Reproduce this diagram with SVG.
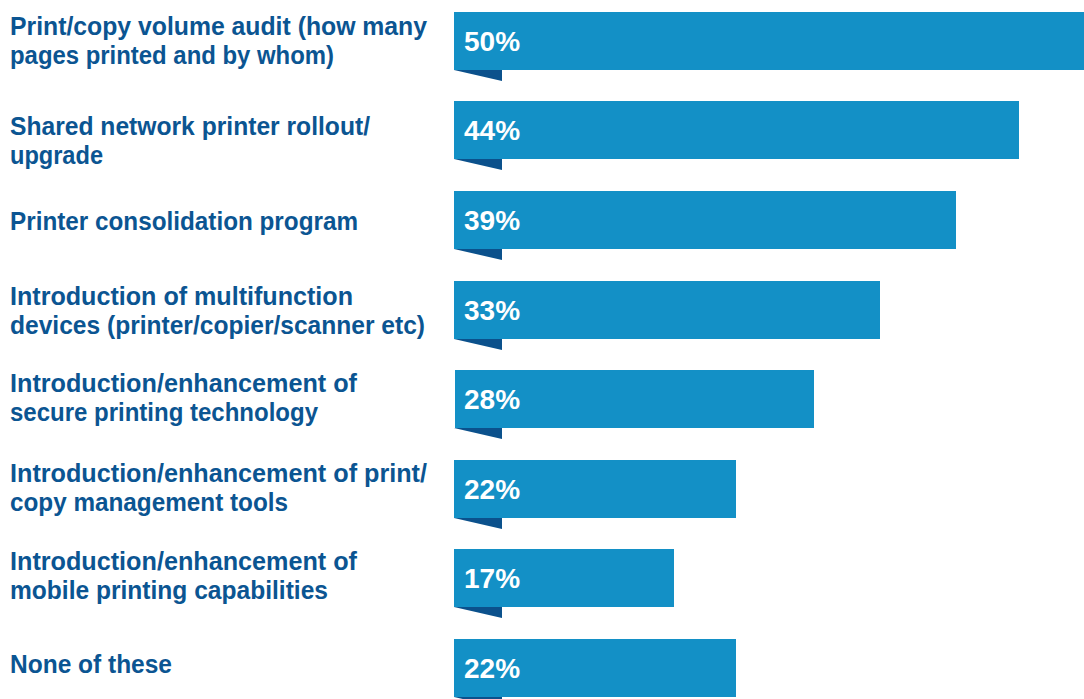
<svg xmlns="http://www.w3.org/2000/svg" width="1084" height="699" viewBox="0 0 1084 699">
<style>
.bar{fill:#1390c6}
.fold{fill:#0b518c}
.lbl{font-family:"Liberation Sans",Arial,sans-serif;font-weight:bold;font-size:25px;fill:#0b5592}
.pct{font-family:"Liberation Sans",Arial,sans-serif;font-weight:bold;font-size:28px;fill:#ffffff}
</style>
<rect width="1084" height="699" fill="#ffffff"/>
<g id="row1">
<text class="lbl" x="10" y="35" textLength="417" lengthAdjust="spacingAndGlyphs">Print/copy volume audit (how many</text>
<text class="lbl" x="10" y="64" textLength="324" lengthAdjust="spacingAndGlyphs">pages printed and by whom)</text>
<polygon class="fold" points="454,70 502,70 502,81"/>
<rect class="bar" x="454" y="12" width="630" height="58"/>
<text class="pct" x="464" y="51">50%</text>
</g>
<g id="row2">
<text class="lbl" x="10" y="135" textLength="360" lengthAdjust="spacingAndGlyphs">Shared network printer rollout/</text>
<text class="lbl" x="10" y="164" textLength="93" lengthAdjust="spacingAndGlyphs">upgrade</text>
<polygon class="fold" points="454,159 502,159 502,170"/>
<rect class="bar" x="454" y="101" width="565" height="58"/>
<text class="pct" x="464" y="140">44%</text>
</g>
<g id="row3">
<text class="lbl" x="10" y="230" textLength="348" lengthAdjust="spacingAndGlyphs">Printer consolidation program</text>
<polygon class="fold" points="454,249 502,249 502,260"/>
<rect class="bar" x="454" y="191" width="502" height="58"/>
<text class="pct" x="464" y="230">39%</text>
</g>
<g id="row4">
<text class="lbl" x="10" y="305" textLength="343" lengthAdjust="spacingAndGlyphs">Introduction of multifunction</text>
<text class="lbl" x="10" y="334" textLength="415" lengthAdjust="spacingAndGlyphs">devices (printer/copier/scanner etc)</text>
<polygon class="fold" points="454,339 502,339 502,350"/>
<rect class="bar" x="454" y="281" width="426" height="58"/>
<text class="pct" x="464" y="320">33%</text>
</g>
<g id="row5">
<text class="lbl" x="10" y="392" textLength="347" lengthAdjust="spacingAndGlyphs">Introduction/enhancement of</text>
<text class="lbl" x="10" y="421" textLength="308" lengthAdjust="spacingAndGlyphs">secure printing technology</text>
<polygon class="fold" points="454,428 502,428 502,439"/>
<rect class="bar" x="455" y="370" width="359" height="58"/>
<text class="pct" x="464" y="409">28%</text>
</g>
<g id="row6">
<text class="lbl" x="10" y="482" textLength="417" lengthAdjust="spacingAndGlyphs">Introduction/enhancement of print/</text>
<text class="lbl" x="10" y="511" textLength="278" lengthAdjust="spacingAndGlyphs">copy management tools</text>
<polygon class="fold" points="454,518 502,518 502,529"/>
<rect class="bar" x="454" y="460" width="282" height="58"/>
<text class="pct" x="464" y="499">22%</text>
</g>
<g id="row7">
<text class="lbl" x="10" y="570" textLength="347" lengthAdjust="spacingAndGlyphs">Introduction/enhancement of</text>
<text class="lbl" x="10" y="599" textLength="318" lengthAdjust="spacingAndGlyphs">mobile printing capabilities</text>
<polygon class="fold" points="454,607 502,607 502,618"/>
<rect class="bar" x="454" y="549" width="220" height="58"/>
<text class="pct" x="464" y="588">17%</text>
</g>
<g id="row8">
<text class="lbl" x="10" y="673" textLength="162" lengthAdjust="spacingAndGlyphs">None of these</text>
<polygon class="fold" points="454,697 502,697 502,708"/>
<rect class="bar" x="454" y="639" width="282" height="58"/>
<text class="pct" x="464" y="678">22%</text>
</g>
<g id="connectors"/>
</svg>
